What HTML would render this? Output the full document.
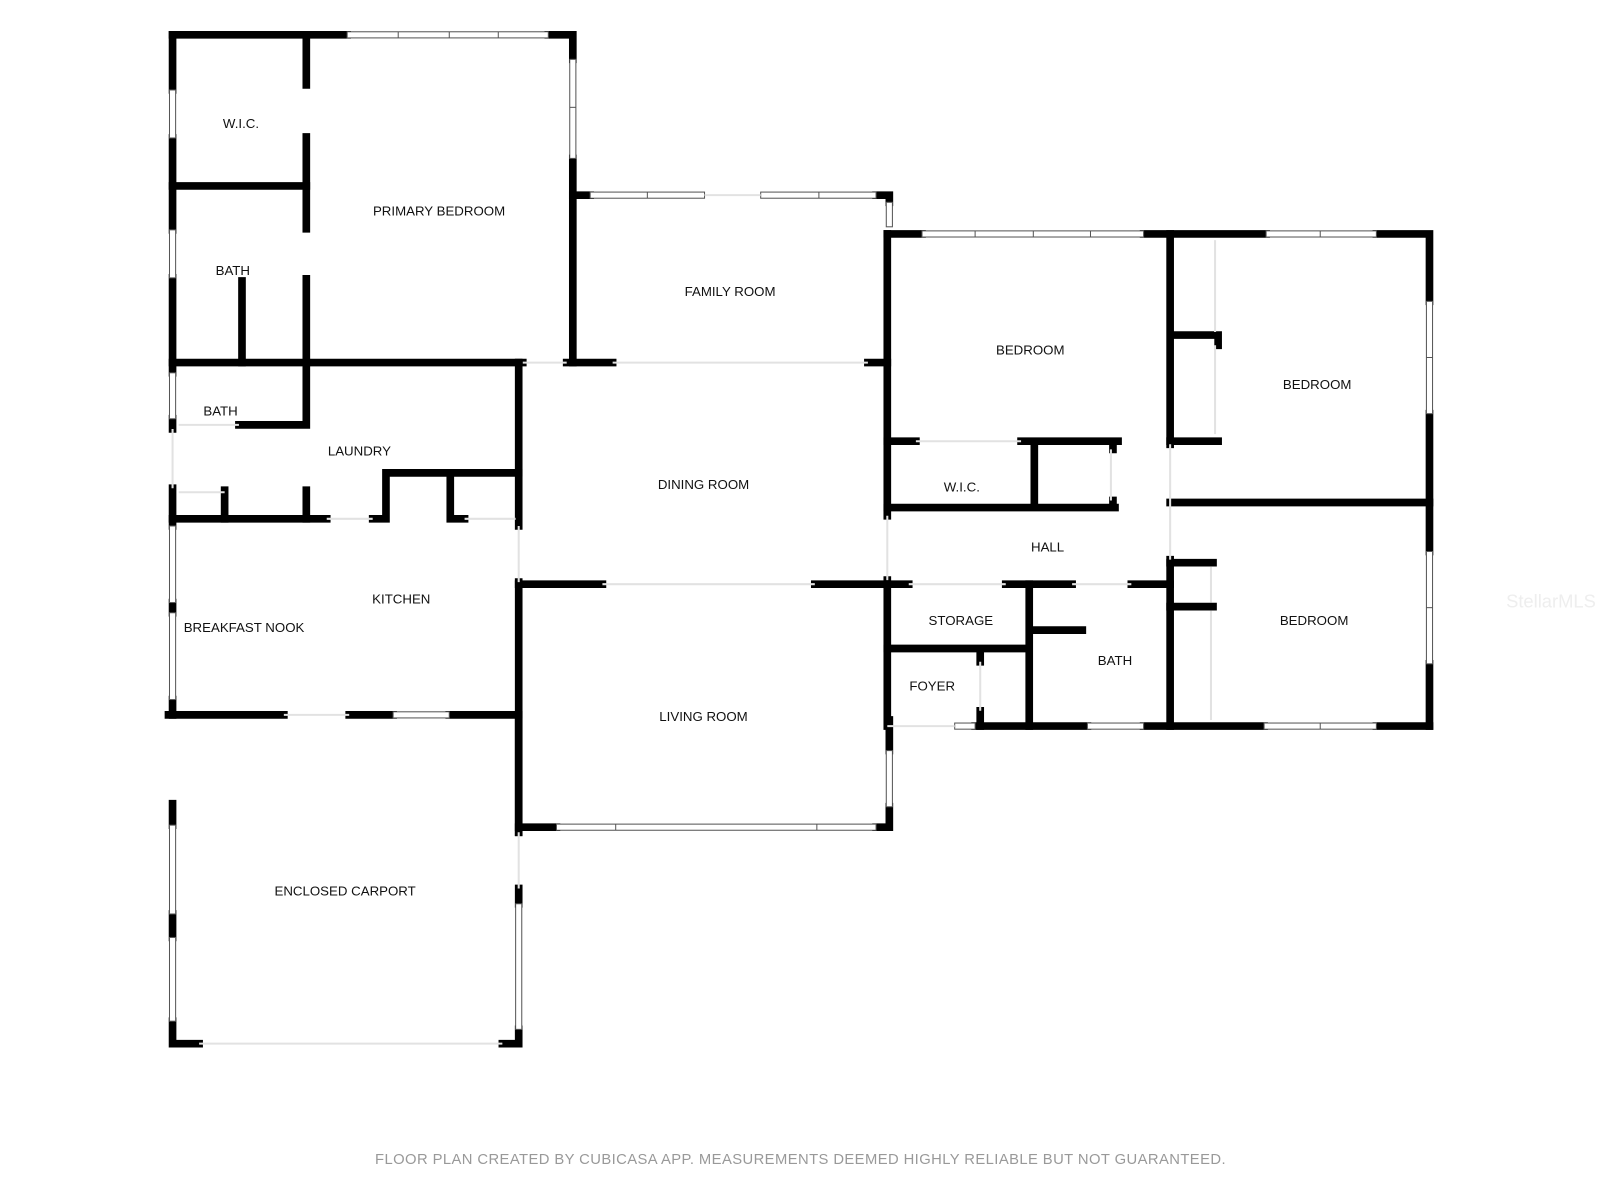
<!DOCTYPE html>
<html><head><meta charset="utf-8"><style>
html,body{margin:0;padding:0;background:#fff;width:1600px;height:1200px;overflow:hidden}
svg{display:block}
text{font-family:"Liberation Sans",sans-serif;font-size:13px;fill:#111;text-anchor:middle}
</style></head><body>
<svg width="1600" height="1200" viewBox="0 0 1567 1175" xmlns="http://www.w3.org/2000/svg">
<g stroke="#000" stroke-width="7.5" stroke-linecap="square" fill="none">
<path d="M169 34H340M537 34H561V58M561 155V355"/>
<path d="M169 34V88M169 135V225M169 272V365M169 410V420"/>
<path d="M300 34V83M300 134V224M300 273V355"/>
<path d="M169 182H300M237 275V355"/>
<path d="M169 355H512M555 355H600M850 355H869"/>
<path d="M561 191H578M858 191H871V198"/>
<path d="M300 355V416H234"/>
<path d="M169 478V515M169 590V600M169 685V700"/>
<path d="M508 355V515M508 570V815"/>
<path d="M169 508H320M365 508H378V463H508M441 463V508H455"/>
<path d="M220 480V508M300 480V508"/>
<path d="M165 700H278M342 700H385M440 700H508"/>
<path d="M169 787V808M169 895V918M169 1000V1022H195M492 1022H508V1008M508 885V870M508 815V700"/>
<path d="M508 572H590M798 572H869M508 810H545M858 810H871V790M871 735V705"/>
<path d="M869 229H903M1120 229H1240M1348 229H1400V295M1400 405V540M1400 650V711"/>
<path d="M869 229V505M869 568V711"/>
<path d="M1146 229V435M869 432H897M1000 432H1095M1013 432V497M869 497H1092M1090 432V440M1090 490V497"/>
<path d="M1150 328H1193V338M1146 432H1193"/>
<path d="M1146 492H1400M1146 548V711"/>
<path d="M869 572H890M985 572H1050M1108 572H1146"/>
<path d="M1008 572V711M1008 617H1060M869 635H1005M960 635V648M960 696V711"/>
<path d="M1146 551H1188M1146 594H1188"/>
<path d="M955 711H1065M1120 711H1238M1348 711H1400"/>
</g>
<g stroke="#555" stroke-width="1" fill="#fff">
<rect x="340" y="31" width="197" height="6"/><line x1="390" y1="31" x2="390" y2="37"/><line x1="440" y1="31" x2="440" y2="37"/><line x1="488" y1="31" x2="488" y2="37"/>
<rect x="558" y="58" width="6" height="97"/><line x1="558" y1="105" x2="564" y2="105"/>
<rect x="166" y="88" width="6" height="47"/><rect x="166" y="225" width="6" height="47"/><rect x="166" y="365" width="6" height="45"/>
<rect x="578" y="188" width="112" height="6"/><line x1="634" y1="188" x2="634" y2="194"/>
<rect x="745" y="188" width="113" height="6"/><line x1="802" y1="188" x2="802" y2="194"/>
<rect x="868" y="198" width="6" height="24"/>
<rect x="166" y="515" width="6" height="75"/><rect x="166" y="600" width="6" height="85"/>
<rect x="385" y="697" width="55" height="6"/>
<rect x="166" y="808" width="6" height="87"/><rect x="166" y="918" width="6" height="82"/>
<rect x="505" y="885" width="6" height="123"/>
<rect x="545" y="807" width="313" height="6"/><line x1="603" y1="807" x2="603" y2="813"/><line x1="800" y1="807" x2="800" y2="813"/>
<rect x="868" y="735" width="6" height="55"/>
<rect x="903" y="226" width="217" height="6"/><line x1="955" y1="226" x2="955" y2="232"/><line x1="1012" y1="226" x2="1012" y2="232"/><line x1="1068" y1="226" x2="1068" y2="232"/>
<rect x="1240" y="226" width="108" height="6"/><line x1="1293" y1="226" x2="1293" y2="232"/>
<rect x="1397" y="295" width="6" height="110"/><line x1="1397" y1="350" x2="1403" y2="350"/>
<rect x="1397" y="540" width="6" height="110"/><line x1="1397" y1="595" x2="1403" y2="595"/>
<rect x="935" y="708" width="20" height="6"/>
<rect x="1065" y="708" width="55" height="6"/>
<rect x="1238" y="708" width="110" height="6"/><line x1="1293" y1="708" x2="1293" y2="714"/>
</g>
<g stroke="#e2e2e2" stroke-width="2" fill="none">
<path d="M512 355H555M600 355H850M690 191H745M169 420V478M175 416H234M175 482H220M320 508H365M455 508H505M508 515V570M278 700H342M195 1022H492M508 815V870M590 572H798M869 505V568M897 432H1000M1146 435V548M890 572H985M1050 572H1108M869 711H935M1190 235V325M1190 338V425M1186 555V590M1186 598V705M960 648V696M1088 440V490"/>
</g>
<text x="236" y="125">W.I.C.</text>
<text x="430" y="211">PRIMARY BEDROOM</text>
<text x="228" y="269">BATH</text>
<text x="715" y="290">FAMILY ROOM</text>
<text x="216" y="407">BATH</text>
<text x="352" y="446">LAUNDRY</text>
<text x="689" y="479">DINING ROOM</text>
<text x="393" y="591">KITCHEN</text>
<text x="239" y="619">BREAKFAST NOOK</text>
<text x="689" y="706">LIVING ROOM</text>
<text x="338" y="877">ENCLOSED CARPORT</text>
<text x="1009" y="347">BEDROOM</text>
<text x="1290" y="381">BEDROOM</text>
<text x="942" y="481">W.I.C.</text>
<text x="1026" y="540">HALL</text>
<text x="941" y="612">STORAGE</text>
<text x="1092" y="651">BATH</text>
<text x="913" y="676">FOYER</text>
<text x="1287" y="612">BEDROOM</text>
<text x="1519" y="595" style="fill:#eee;font-size:18px">StellarMLS</text>
<text x="784" y="1140" style="fill:#999;font-size:14.5px;letter-spacing:0.4px">FLOOR PLAN CREATED BY CUBICASA APP. MEASUREMENTS DEEMED HIGHLY RELIABLE BUT NOT GUARANTEED.</text>
</svg>
</body></html>
